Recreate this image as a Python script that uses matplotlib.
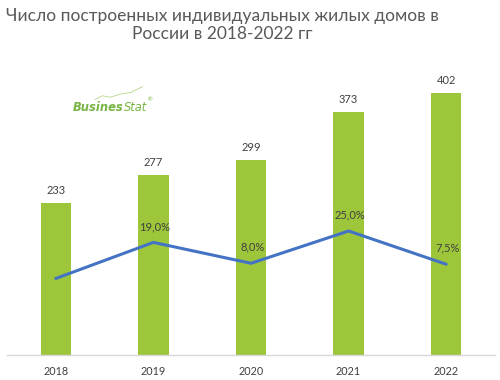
import numpy as np
from matplotlib import pyplot as plt

years = ["2018", "2019", "2020", "2021", "2022"]
houses = [233, 277, 299, 373, 402]
growth = [0.0, 19.0, 8.0, 25.0, 7.5]
growth_labels = ["", "19,0%", "8,0%", "25,0%", "7,5%"]

title = "Число построенных индивидуальных жилых домов в\nРоссии в 2018-2022 гг"

bar_color = "#9dc63b"
line_color = "#4472c4"
text_color = "#404040"
logo_color = "#78b443"

plt.rcParams["font.family"] = ["Lato", "DejaVu Sans"]


def main():
    fig = plt.figure(figsize=(5, 3.8), dpi=100)
    ax = fig.add_axes([0.014, 25 / 380, 0.976, 293 / 380])
    x = np.arange(len(years))

    ax.bar(x, houses, width=0.31, color=bar_color, zorder=2)
    ax.set_ylim(0, 450)
    ax.set_xlim(-0.5, len(years) - 0.5)
    for xi, v in zip(x, houses):
        ax.annotate(str(v), (xi, v), xytext=(0, 9), textcoords="offset points",
                    ha="center", va="center", fontsize=8, color=text_color)

    ax.set_xticks(x)
    ax.set_xticklabels(years, fontsize=7.8, color=text_color)
    ax.tick_params(axis="x", length=0, pad=8)
    ax.set_yticks([])
    for side in ["top", "right", "left"]:
        ax.spines[side].set_visible(False)
    ax.spines["bottom"].set_color("#d9d9d9")
    ax.spines["bottom"].set_linewidth(1.0)

    ax2 = ax.twinx()
    ax2.plot(x, growth, color=line_color, linewidth=2.2, solid_capstyle="round", zorder=3)
    ax2.set_ylim(-40.3, 114)
    ax2.set_yticks([])
    for side in ["top", "right", "left", "bottom"]:
        ax2.spines[side].set_visible(False)
    for xi, v, lab in zip(x, growth, growth_labels):
        if lab:
            ax2.annotate(lab, (xi, v), xytext=(1, 11.5), textcoords="offset points",
                         ha="center", va="center", fontsize=8, color=text_color)

    fig.text(0.444, 0.935, title, ha="center", va="center", fontsize=12.5,
             color="#595959", linespacing=1.15)

    # BusinesStat logo
    t1 = fig.text(0.146, 0.718, "Busines", ha="left", va="center", fontsize=8.3,
                  fontweight="bold", fontstyle="italic", color=logo_color,
                  family="DejaVu Sans")
    t2 = fig.text(0, 0, "Stat", ha="left", va="center", fontsize=8.3,
                  fontstyle="italic", color=logo_color, family="DejaVu Sans")
    fig.canvas.draw()
    r = fig.canvas.get_renderer()
    bb = t1.get_window_extent(r).transformed(fig.transFigure.inverted())
    t2.set_position((bb.x1, 0.718))
    bb2 = t2.get_window_extent(r).transformed(fig.transFigure.inverted())
    fig.text(bb2.x1 + 0.002, 0.738, "®", ha="left", va="center", fontsize=4,
             color=logo_color)
    fig.lines.append(plt.Line2D([0.19, 0.205, 0.22, 0.24, 0.262, 0.285],
                                [0.738, 0.748, 0.744, 0.752, 0.757, 0.772],
                                transform=fig.transFigure, color="#b5d68a",
                                linewidth=0.6))

    fig.savefig("out.png", dpi=100)


if __name__ == "__main__":
    main()
